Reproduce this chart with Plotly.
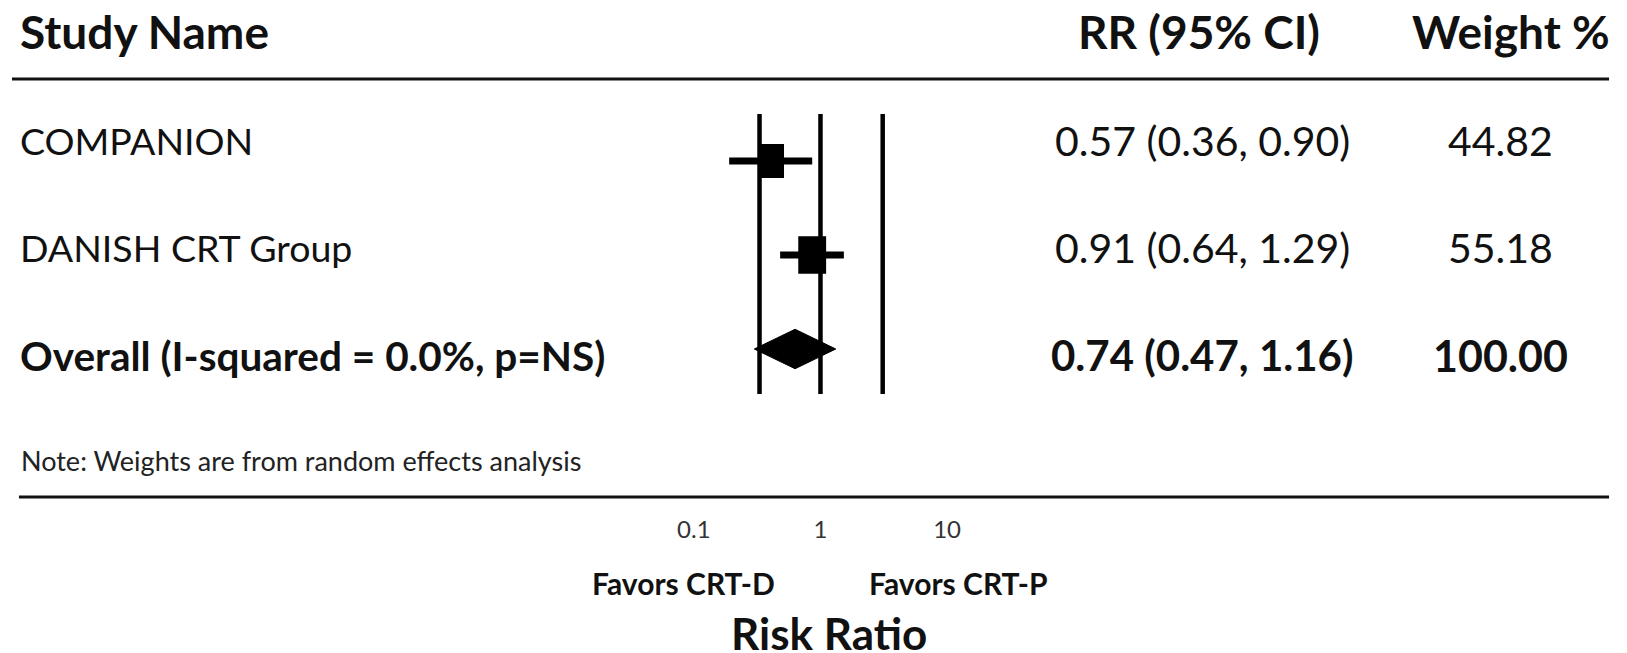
import plotly.graph_objects as go

W, H = 1627, 653
FONT = "Lato"

# ---------------- data ----------------
studies = ["COMPANION", "DANISH CRT Group"]
overall_label = "Overall (I-squared = 0.0%, p=NS)"
rr_text = ["0.57 (0.36, 0.90)", "0.91 (0.64, 1.29)"]
overall_rr_text = "0.74 (0.47, 1.16)"
weights = [44.82, 55.18]
overall_weight = 100.00

# effect positions as drawn on the plot's risk-ratio axis
est = [0.41, 0.86]
lo = [0.19, 0.48]
hi = [0.86, 1.53]
overall_est = 0.63
overall_lo = 0.30
overall_hi = 1.32
ref_lines = [0.33, 1.0, 3.1]

tick_vals = [0.1, 1, 10]
tick_text = ["0.1", "1", "10"]
headers = ["Study Name", "RR (95% CI)", "Weight %"]
note = "Note: Weights are from random effects analysis"
favors = ["Favors CRT-D", "Favors CRT-P"]
xlabel = "Risk Ratio"

# ---------------- helpers ----------------
def px(x):
    return x / W

def py(y):
    return 1 - y / H

X_CENTER, DEC = 819.0, 127.0
XR = 1.1
Y0, YSTEP = 161.0, 94.0
YTOP, YBOT = 100.0, 513.0

def yval(p):
    return (p - Y0) / YSTEP

fig = go.Figure()

# confidence intervals
for i in range(len(studies)):
    fig.add_trace(go.Scatter(x=[lo[i], hi[i]], y=[i, i], mode="lines",
                             line=dict(color="black", width=7),
                             hoverinfo="skip", showlegend=False))

# weighted boxes
wmax = max(weights)
for i in range(len(studies)):
    s = (weights[i] / wmax) ** 0.5
    hw = 0.11 * s   # half width in decades
    hh = 0.20 * s   # half height in rows
    xl, xr = est[i] * 10 ** (-hw), est[i] * 10 ** hw
    fig.add_trace(go.Scatter(x=[xl, xr, xr, xl, xl],
                             y=[i - hh, i - hh, i + hh, i + hh, i - hh],
                             mode="lines", fill="toself", fillcolor="black",
                             line=dict(color="black", width=0),
                             hoverinfo="skip", showlegend=False))

# overall diamond
r = len(studies)
dh = 0.21
fig.add_trace(go.Scatter(x=[overall_lo, overall_est, overall_hi, overall_est, overall_lo],
                         y=[r, r - dh, r, r + dh, r],
                         mode="lines", fill="toself", fillcolor="black",
                         line=dict(color="black", width=1),
                         hoverinfo="skip", showlegend=False))

shapes = []
for v in ref_lines:
    shapes.append(dict(type="line", xref="x", yref="paper", x0=v, x1=v,
                       y0=py(114), y1=py(394), line=dict(color="black", width=4.5)))
# horizontal rules
shapes.append(dict(type="line", xref="paper", yref="paper", x0=px(8), x1=px(1610),
                   y0=py(79), y1=py(79), line=dict(color="#111", width=3)))
shapes.append(dict(type="line", xref="paper", yref="paper", x0=px(15), x1=px(1610),
                   y0=py(497), y1=py(497), line=dict(color="#111", width=3)))

def ann(text, x, y, size, bold=False, xanchor="left", color="#111"):
    return dict(text=f"<b>{text}</b>" if bold else text, x=px(x), y=py(y),
                xref="paper", yref="paper", xanchor=xanchor, yanchor="middle",
                showarrow=False, font=dict(family=FONT, size=size, color=color))

annotations = [
    ann(headers[0], 14, 31, 46, bold=True),
    ann(headers[1], 1199, 31, 46, bold=True, xanchor="center"),
    ann(headers[2], 1512, 31, 46, bold=True, xanchor="center"),
]
row_y = [141, 247, 355]
for i, name in enumerate(studies):
    annotations.append(ann(name, 14, row_y[i], 37.5))
    annotations.append(ann(rr_text[i], 1202, row_y[i], 41, xanchor="center"))
    annotations.append(ann(f"{weights[i]:.2f}", 1501, row_y[i], 41, xanchor="center"))
annotations.append(ann(overall_label, 14, row_y[2], 40.5, bold=True))
annotations.append(ann(overall_rr_text, 1202, row_y[2], 42, bold=True, xanchor="center"))
annotations.append(ann(f"{overall_weight:.2f}", 1501, row_y[2], 43, bold=True, xanchor="center"))
annotations.append(ann(note, 15, 460, 27, color="#222"))
annotations.append(ann(favors[0], 682, 583, 30, bold=True, xanchor="center"))
annotations.append(ann(favors[1], 957, 583, 30, bold=True, xanchor="center"))
annotations.append(ann(xlabel, 828, 633, 44, bold=True, xanchor="center"))

fig.update_layout(
    width=W, height=H,
    margin=dict(l=0, r=0, t=0, b=0),
    paper_bgcolor="white", plot_bgcolor="white",
    showlegend=False,
    shapes=shapes, annotations=annotations,
    xaxis=dict(type="log", range=[-XR, XR],
               domain=[px(X_CENTER - XR * DEC), px(X_CENTER + XR * DEC)],
               tickvals=tick_vals, ticktext=tick_text, ticks="",
               showgrid=False, zeroline=False, showline=False, fixedrange=True,
               tickfont=dict(family=FONT, size=24, color="#333")),
    yaxis=dict(range=[yval(YBOT), yval(YTOP)], domain=[py(YBOT), py(YTOP)],
               showticklabels=False, showgrid=False, zeroline=False, showline=False,
               fixedrange=True),
)

fig.write_html("out.html", config={"displayModeBar": False},
               post_script="document.body.style.margin='0px';")
